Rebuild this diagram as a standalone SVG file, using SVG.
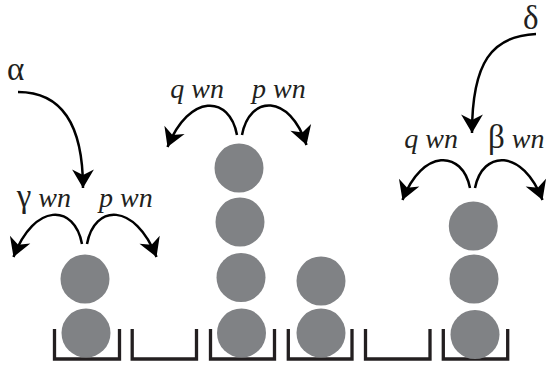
<svg xmlns="http://www.w3.org/2000/svg" width="546" height="366" viewBox="0 0 546 366">
<defs>
<style>
.bin{fill:none;stroke:#231f20;stroke-width:3.3;stroke-linejoin:miter}
.ball{fill:#808285}
.arr{fill:none;stroke:#000;stroke-width:2.5;marker-end:url(#ah)}
.lbl{font-family:"Liberation Serif","Times New Roman",serif;font-size:28px;fill:#231f20}
.it{font-style:italic}
.gk{font-size:33px}
</style>
<marker id="ah" markerUnits="userSpaceOnUse" markerWidth="24" markerHeight="24" viewBox="-18 -11 20 22" refX="0" refY="0" orient="auto">
<path d="M0,0 L-17,-10 L-12,0 L-17,10 Z" fill="#000"/>
</marker>
</defs>
<rect width="546" height="366" fill="#fff"/>
<g id="site1"><path class="bin" d="M54.5,329 V359 H119.5 V329"/><circle class="ball" cx="86" cy="333" r="24.5"/><circle class="ball" cx="85" cy="279" r="24.5"/></g>
<g id="site2"><path class="bin" d="M132.2,329 V359 H196.5 V329"/></g>
<g id="site3"><path class="bin" d="M210.5,329 V359 H274.5 V329"/><circle class="ball" cx="241.5" cy="333" r="24.5"/><circle class="ball" cx="241" cy="277.5" r="24.5"/><circle class="ball" cx="240" cy="222" r="24.5"/><circle class="ball" cx="239" cy="168" r="24.5"/></g>
<g id="site4"><path class="bin" d="M288.3,329 V359 H352 V329"/><circle class="ball" cx="321" cy="333" r="24.5"/><circle class="ball" cx="321" cy="281" r="24.5"/></g>
<g id="site5"><path class="bin" d="M365.5,329 V359 H430 V329"/></g>
<g id="site6"><path class="bin" d="M443.3,329 V359 H507.7 V329"/><circle class="ball" cx="475" cy="334.5" r="24.5"/><circle class="ball" cx="474" cy="279" r="24.5"/><circle class="ball" cx="473.3" cy="226" r="24.5"/></g>
<g id="connectors">
<path class="arr" d="M536,34 C492,36 472,62 472,133"/>
<path class="arr" d="M18,92 C55,92 83,115 83,188"/>
<g transform="translate(84.5,244)"><path class="arr" d="M-2.5,0 C-10,-40 -50,-42 -71,13"/><path class="arr" d="M2.5,0 C10,-40 50,-42 72,13"/></g>
<g transform="translate(239.5,135)"><path class="arr" d="M-2.5,0 C-10,-40 -50,-42 -72,12"/><path class="arr" d="M2.5,0 C10,-40 50,-42 67,10"/></g>
<g transform="translate(472.5,188)"><path class="arr" d="M-2.5,0 C-10,-38 -50,-40 -70,12"/><path class="arr" d="M2.5,0 C10,-38 50,-40 70,12"/></g>
</g>
<g id="labels">
<text class="lbl gk" x="7" y="80">α</text>
<text class="lbl gk" x="523" y="29">δ</text>
<text class="lbl" x="71" y="207" text-anchor="end"><tspan class="gk">γ</tspan> <tspan class="it">wn</tspan></text>
<text class="lbl it" x="99" y="207">p wn</text>
<text class="lbl it" x="224" y="98" text-anchor="end">q wn</text>
<text class="lbl it" x="252" y="98">p wn</text>
<text class="lbl it" x="458" y="148" text-anchor="end">q wn</text>
<text class="lbl" x="488" y="148"><tspan class="gk">β</tspan> <tspan class="it">wn</tspan></text>
</g>
</svg>
